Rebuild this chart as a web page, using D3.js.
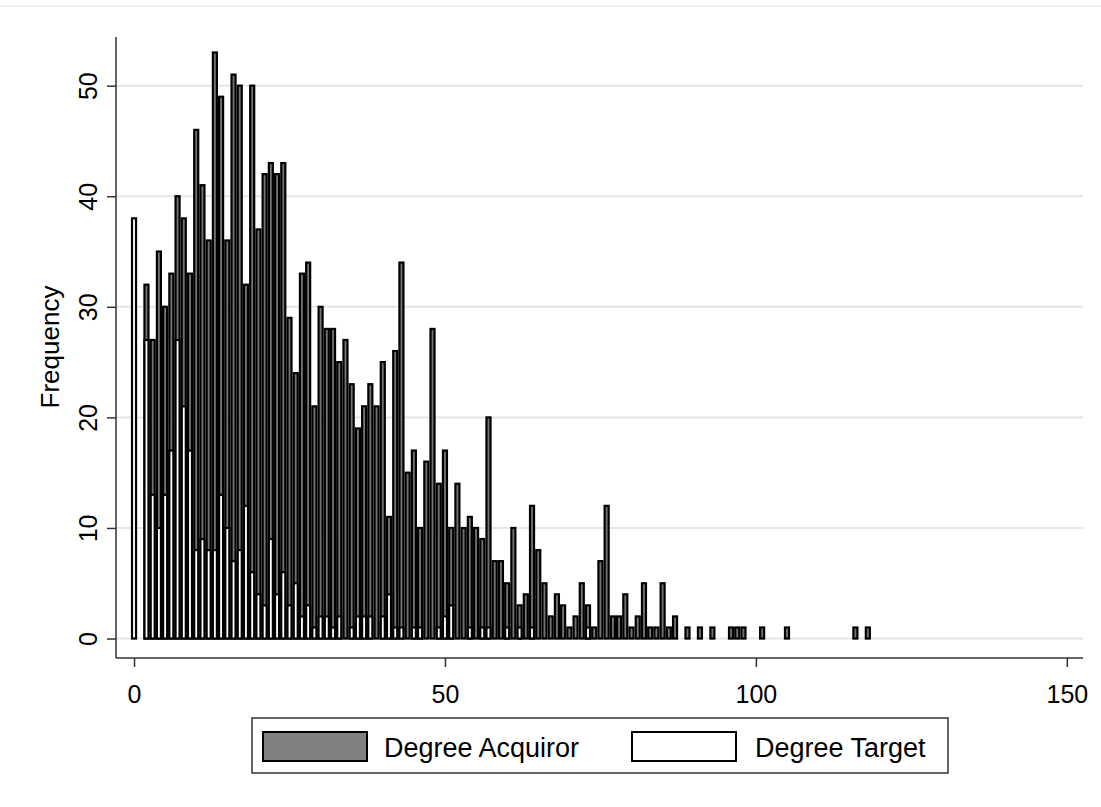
<!DOCTYPE html>
<html>
<head>
<meta charset="utf-8">
<script src="https://d3js.org/d3.v7.min.js"></script>
<style>
  body { margin: 0; background: #fff; }
  text { font-family: "Liberation Sans", Arial, sans-serif; fill: #000; }
</style>
</head>
<body>
<script>
// Degree Acquiror: degree values and frequencies (non-zero bins only)
const acqDegree = [2,3,4,5,6,7,8,9,10,11,12,13,14,15,16,17,18,19,20,21,22,23,24,25,26,27,28,29,30,
  31,32,33,34,35,36,37,38,39,40,41,42,43,44,45,46,47,48,49,50,51,52,53,54,55,56,57,58,59,60,
  61,62,63,64,65,66,67,68,69,70,71,72,73,74,75,76,77,78,79,80,81,82,83,84,85,86,87,
  89,91,93,96,97,98,101,105,116,118];
const acqFreq = [32,27,35,30,33,40,38,33,46,41,36,53,49,36,51,50,32,50,37,42,43,42,43,29,24,33,34,21,30,
  28,28,25,27,23,19,21,23,21,25,11,26,34,15,17,10,16,28,14,17,10,14,10,11,10,9,20,7,7,5,
  10,3,4,12,8,5,2,4,3,1,2,5,3,1,7,12,2,2,4,1,2,5,1,1,5,1,2,
  1,1,1,1,1,1,1,1,1,1];

// Degree Target
const tgtDegree = [0,2,3,4,5,6,7,8,9,10,11,12,13,14,15,16,17,18,19,20,21,22,23,24,25,26,27,28,29,30,
  31,32,33,35,36,37,38,40,41,42,43,45,46,49,50,51,54,56,57,60,62,64,73];
const tgtFreq = [38,27,13,10,13,17,27,21,17,8,9,8,8,13,10,7,8,12,6,4,3,9,4,6,3,5,2,3,1,2,
  2,1,2,1,2,2,2,2,4,1,1,1,1,1,2,3,1,1,1,1,1,1,1];

const xTicks = [0, 50, 100, 150];
const yTicks = [0, 10, 20, 30, 40, 50];
const seriesNames = ["Degree Acquiror", "Degree Target"];

const width = 1101, height = 807;
const svg = d3.select("body").append("svg")
  .attr("width", width)
  .attr("height", height);

// plot region
const plotLeft = 116, plotRight = 1083, plotTop = 37, plotBottom = 658;
const x = d3.scaleLinear().domain([-2.9, 152.6]).range([plotLeft, plotRight]);
const y = d3.scaleLinear().domain([-1.76, 54.4]).range([plotBottom, plotTop]);

// faint outer line at the top
svg.append("line")
  .attr("x1", 0).attr("x2", width)
  .attr("y1", 6).attr("y2", 6)
  .attr("stroke", "#ececec").attr("stroke-width", 1.5);

// gridlines
svg.append("g").selectAll("line")
  .data(yTicks)
  .join("line")
  .attr("x1", plotLeft).attr("x2", plotRight)
  .attr("y1", d => y(d)).attr("y2", d => y(d))
  .attr("stroke", "#e6e6e6").attr("stroke-width", 2);

const step = x(1) - x(0);
const sw = 2.2;

function drawBars(degrees, freqs, fill) {
  svg.append("g").selectAll("rect")
    .data(degrees.map((d, i) => ({ d: d, v: freqs[i] })))
    .join("rect")
    .attr("x", d => x(d.d - 0.5) + sw / 2)
    .attr("width", step - sw)
    .attr("y", d => y(d.v))
    .attr("height", d => y(0) - y(d.v))
    .attr("fill", fill)
    .attr("stroke", "#000")
    .attr("stroke-width", sw);
}

drawBars(acqDegree, acqFreq, "#747474");
drawBars(tgtDegree, tgtFreq, "#fff");

// y axis
const yAxis = d3.axisLeft(y).tickValues(yTicks).tickSize(9).tickFormat(d3.format("d"));
const gy = svg.append("g")
  .attr("transform", "translate(" + plotLeft + ",0)")
  .call(yAxis);
gy.select(".domain").attr("d", "M0," + plotTop + "V" + plotBottom).attr("stroke", "#333").attr("stroke-width", 1.5);
gy.selectAll(".tick line").attr("stroke", "#333").attr("stroke-width", 1.5);
gy.selectAll(".tick text")
  .attr("font-size", 25)
  .attr("font-family", "Liberation Sans, Arial, sans-serif")
  .attr("x", null).attr("dy", null)
  .attr("text-anchor", "middle")
  .attr("transform", "translate(-19,0) rotate(-90)");

// x axis
const xAxis = d3.axisBottom(x).tickValues(xTicks).tickSize(9).tickFormat(d3.format("d"));
const gx = svg.append("g")
  .attr("transform", "translate(0," + plotBottom + ")")
  .call(xAxis);
gx.select(".domain").attr("d", "M" + plotLeft + ",0H" + plotRight).attr("stroke", "#333").attr("stroke-width", 1.5);
gx.selectAll(".tick line").attr("stroke", "#333").attr("stroke-width", 1.5);
gx.selectAll(".tick text")
  .attr("font-size", 25)
  .attr("font-family", "Liberation Sans, Arial, sans-serif")
  .attr("y", 45).attr("dy", null);

// y axis title
svg.append("text")
  .attr("transform", "translate(59,347) rotate(-90)")
  .attr("text-anchor", "middle")
  .attr("font-size", 26)
  .text("Frequency");

// legend
const legend = svg.append("g");
legend.append("rect")
  .attr("x", 252).attr("y", 718)
  .attr("width", 696).attr("height", 55)
  .attr("fill", "#fff").attr("stroke", "#333").attr("stroke-width", 1.5);

const legendItems = [
  { name: seriesNames[0], fill: "#808080", sx: 263, tx: 384 },
  { name: seriesNames[1], fill: "#fff", sx: 632, tx: 755 }
];
legendItems.forEach(function(it) {
  legend.append("rect")
    .attr("x", it.sx).attr("y", 732)
    .attr("width", 104).attr("height", 29)
    .attr("fill", it.fill).attr("stroke", "#000").attr("stroke-width", 2);
  legend.append("text")
    .attr("x", it.tx).attr("y", 757)
    .attr("font-size", 27)
    .text(it.name);
});
</script>
</body>
</html>
